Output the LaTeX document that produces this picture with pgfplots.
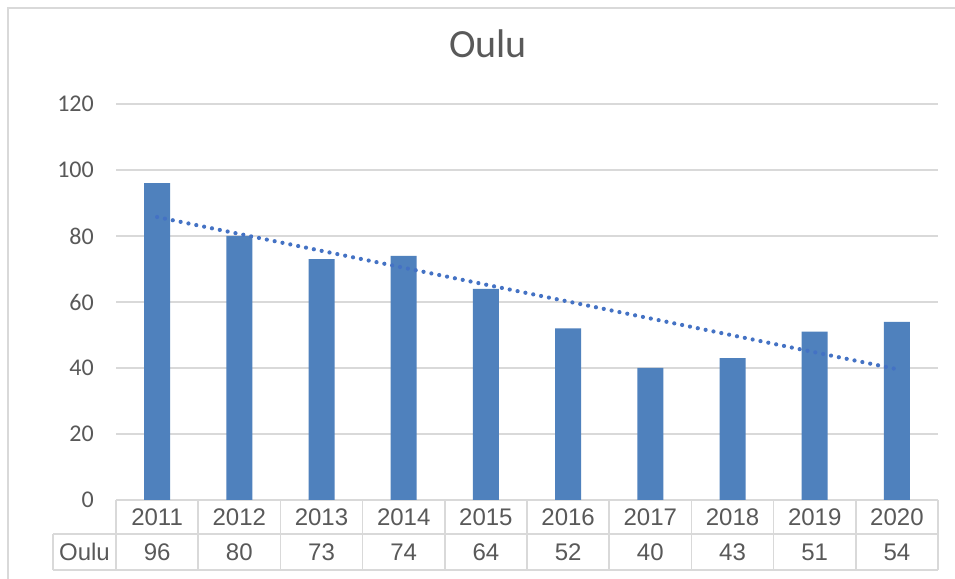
\documentclass[border=0pt]{standalone}
\usepackage{pgfplots}
\pgfplotsset{compat=1.18}
\usepackage{fontspec}
\setmainfont{Liberation Sans}
\newfontfamily\calfont{Carlito}
\definecolor{barblue}{HTML}{4F81BD}
\definecolor{trendblue}{HTML}{4472C4}
\definecolor{txtgray}{HTML}{595959}
\definecolor{gridgray}{HTML}{D9D9D9}
\begin{document}
\begin{tikzpicture}[x=1pt,y=1pt]
\useasboundingbox (0,0) rectangle (955,578);
\fill[white] (0,0) rectangle (955,578);
\draw[gridgray, line width=1.5pt] (8,-5) -- (8,570) -- (962,570);
\begin{axis}[
 at={(116pt,78pt)}, anchor=south west,
 scale only axis, width=822pt, height=396pt,
 xmin=-0.5, xmax=9.5, ymin=0, ymax=120,
 clip=false,
 axis line style={draw=none},
 major tick length=0pt,
 /pgf/number format/assume math mode=true,
 ytick={0,20,...,120},
 ymajorgrids, grid style={gridgray, line width=1.5pt},
 xtick={0,...,9},
 xticklabels={2011,2012,2013,2014,2015,2016,2017,2018,2019,2020},
 xticklabel style={anchor=center, yshift=-17pt, font=\fontsize{24}{28}\selectfont, text=txtgray, inner sep=0pt},
 yticklabel style={anchor=east, xshift=-22pt, inner sep=0pt, font=\calfont\fontsize{24}{28}\selectfont, text=txtgray},
 title={\calfont\fontsize{40}{46}\selectfont Oulu},
 title style={at={(0.4526,1)}, anchor=center, yshift=54pt, text=txtgray},
]
\addplot[ybar, bar width=26pt, fill=barblue, draw=none] coordinates {
 (0,96) (1,80) (2,73) (3,74) (4,64) (5,52) (6,40) (7,43) (8,51) (9,54)};
\addplot[trendblue, line width=4.2pt, dash pattern=on 0pt off 8pt, line cap=round] coordinates {(0,85.75) (9,39.65)};
\addplot[draw=none, mark=none, nodes near coords, point meta=explicit symbolic,
 every node near coord/.append style={anchor=center, inner sep=0pt, font=\fontsize{24}{28}\selectfont, text=txtgray}]
 coordinates {(0,-15.76)[96] (1,-15.76)[80] (2,-15.76)[73] (3,-15.76)[74] (4,-15.76)[64]
 (5,-15.76)[52] (6,-15.76)[40] (7,-15.76)[43] (8,-15.76)[51] (9,-15.76)[54]};
\end{axis}
\begin{scope}[gridgray, line width=1.5pt]
\foreach \k in {0,...,10} {\draw (116+82.2*\k,78) -- (116+82.2*\k,8);}
\draw (53,44) -- (938,44);
\draw (53,8) -- (938,8);
\draw (53,44) -- (53,8);
\end{scope}
\node[text=txtgray, font=\fontsize{24}{28}\selectfont, inner sep=0pt] at (84.5,26) {Oulu};
\end{tikzpicture}
\end{document}
